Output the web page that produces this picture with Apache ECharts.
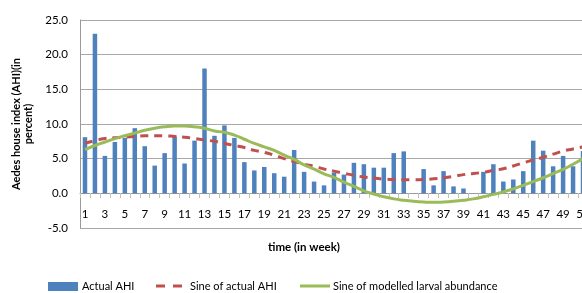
<!DOCTYPE html>
<html>
<head>
<meta charset="utf-8">
<script src="https://cdn.jsdelivr.net/npm/echarts@6/dist/echarts.min.js"></script>
<style>
  html, body { margin: 0; padding: 0; background: #fff; }
  #chart { width: 582px; height: 293px; }
</style>
</head>
<body>
<div id="chart"></div>
<script>
// weeks 1..51
const weeks = []
for (let i = 1; i <= 51; i++) weeks.push(String(i))

const actualAHI = [
  8.1, 23.0, 5.4, 7.4, 8.0, 9.4, 6.8, 4.0, 5.8, 8.2,
  4.3, 7.6, 18.0, 8.3, 9.8, 8.0, 4.5, 3.3, 3.8, 2.9,
  2.4, 6.25, 3.1, 1.7, 1.15, 3.0, 2.7, 4.4, 4.2, 3.7,
  3.7, 5.8, 6.05, 0, 3.5, 1.15, 3.2, 1.0, 0.7, 0,
  3.1, 4.2, 1.7, 2.0, 3.2, 7.6, 6.15, 3.9, 5.4, 3.9, 6.1
]

const sineActual = [
  7.2, 7.6, 7.9, 8.0, 8.1, 8.2, 8.3, 8.3, 8.3, 8.2,
  8.1, 7.9, 7.7, 7.5, 7.2, 6.9, 6.6, 6.2, 5.9, 5.5,
  5.0, 4.6, 4.2, 3.9, 3.5, 3.2, 2.9, 2.6, 2.35, 2.2,
  2.05, 2.0, 1.97, 1.97, 2.0, 2.1, 2.25, 2.45, 2.7, 2.85,
  3.05, 3.3, 3.55, 3.95, 4.4, 4.8, 5.2, 5.65, 6.1, 6.4, 6.7
]

const sineLarval = [
  6.3, 6.9, 7.4, 7.9, 8.3, 8.7, 9.1, 9.4, 9.6, 9.7,
  9.7, 9.6, 9.4, 9.0, 8.8, 8.4, 7.8, 7.2, 6.7, 6.2,
  5.5, 4.9, 4.1, 3.5, 2.8, 2.3, 1.6, 1.0, 0.35, -0.1,
  -0.5, -0.8, -1.0, -1.15, -1.25, -1.3, -1.25, -1.15, -1.0, -0.8,
  -0.5, -0.15, 0.2, 0.65, 1.15, 1.7, 2.25, 2.85, 3.45, 4.2, 5.0
]

const font = 'Lato, "Liberation Sans", sans-serif'
const blue = '#4f81bd', red = '#c0504d', green = '#9bbb59'

const chart = echarts.init(document.getElementById('chart'), null, { renderer: 'canvas' })

// legend drawn by hand so the line icons have no symbols
const legendY = 286
const legendText = (x, t) => ({
  type: 'text', x: x, y: legendY,
  style: { text: t, fontFamily: font, fontSize: 11, fill: '#000', verticalAlign: 'middle' }
})

chart.setOption({
  animation: false,
  // plot runs past the right edge, like the cropped original
  grid: [
    { left: 80, top: 20, width: 508, height: 208, outerBoundsMode: 'none' },
    // second grid ends on the zero line; it only carries the week axis
    { left: 80, top: 20, width: 508, height: 173, outerBoundsMode: 'none' }
  ],
  xAxis: [
    {
      type: 'category',
      gridIndex: 0,
      data: weeks,
      boundaryGap: true,
      show: false
    },
    {
      type: 'category',
      gridIndex: 1,
      data: weeks,
      boundaryGap: true,
      axisLine: { onZero: false, lineStyle: { color: '#9a9a9a', width: 1 } },
      axisTick: { show: true, interval: 0, length: 5, lineStyle: { color: '#c0c0c0' } },
      axisLabel: { interval: 1, margin: 15, fontFamily: font, fontSize: 11.5, color: '#000' },
      splitLine: { show: false }
    }
  ],
  yAxis: [
    {
      type: 'value',
      gridIndex: 0,
      min: -5,
      max: 25,
      interval: 5,
      name: 'Aedes house index (AHI)(in\npercent)',
      nameLocation: 'middle',
      nameGap: 42,
      nameTextStyle: { fontFamily: font, fontSize: 11, fontWeight: 'bold', color: '#000', lineHeight: 12 },
      axisLine: { show: true, lineStyle: { color: '#9a9a9a' } },
      axisTick: { show: false },
      axisLabel: {
        margin: 12,
        fontFamily: font,
        fontSize: 11.5,
        color: '#000',
        formatter: v => v.toFixed(1)
      },
      splitLine: { lineStyle: { color: '#a8a8a8', width: 1 } }
    },
    { type: 'value', gridIndex: 1, min: 0, max: 25, show: false, splitLine: { show: false } }
  ],
  graphic: [
    {
      type: 'text',
      x: 304,
      y: 247,
      style: {
        text: 'time (in week)',
        fontFamily: font,
        fontSize: 11.5,
        fontWeight: 'bold',
        fill: '#000',
        align: 'center',
        verticalAlign: 'middle'
      }
    },
    { type: 'rect', shape: { x: 48, y: 282, width: 30, height: 9 }, style: { fill: blue } },
    legendText(82, 'Actual AHI'),
    { type: 'line', shape: { x1: 156, y1: legendY, x2: 182, y2: legendY },
      style: { stroke: red, lineWidth: 3, lineDash: [9, 8] } },
    legendText(190, 'Sine of actual AHI'),
    { type: 'line', shape: { x1: 300, y1: legendY, x2: 330, y2: legendY },
      style: { stroke: green, lineWidth: 3 } },
    legendText(333, 'Sine of modelled larval abundance')
  ],
  series: [
    {
      name: 'Actual AHI',
      type: 'bar',
      data: actualAHI,
      barWidth: 4.5,
      itemStyle: { color: blue }
    },
    {
      name: 'Sine of actual AHI',
      type: 'line',
      data: sineActual,
      smooth: true,
      symbol: 'none',
      lineStyle: { color: red, width: 3, type: [8, 6] }
    },
    {
      name: 'Sine of modelled larval abundance',
      type: 'line',
      data: sineLarval,
      smooth: true,
      symbol: 'none',
      lineStyle: { color: green, width: 3 }
    }
  ]
})
</script>
</body>
</html>
